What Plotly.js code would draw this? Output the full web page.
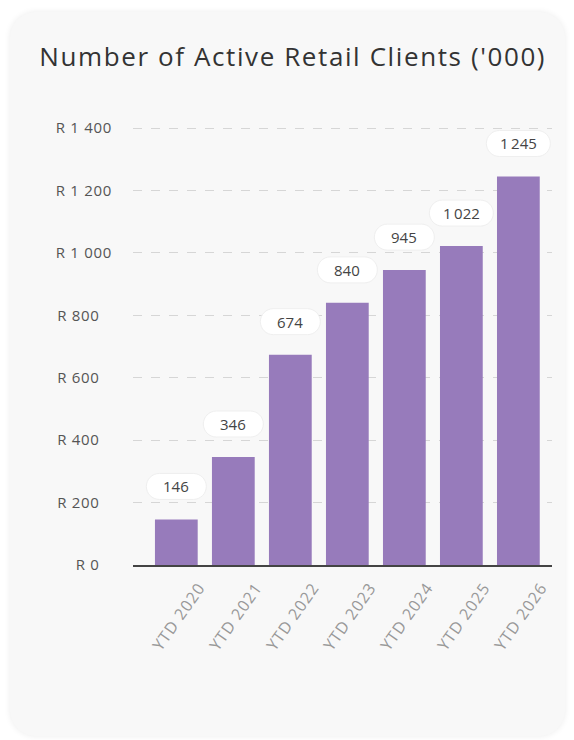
<!DOCTYPE html>
<html>
<head>
<meta charset="utf-8">
<script src="https://cdn.plot.ly/plotly-3.0.1.min.js"></script>
<style>
  html, body { margin: 0; padding: 0; background: #ffffff; }
  #card { position: absolute; left: 10px; top: 12px; width: 555px; height: 724px;
          background: #f8f8f8; border-radius: 26px;
          box-shadow: 0 0 6px rgba(0,0,0,0.08); }
  #chart { position: absolute; left: 0; top: 0; width: 574px; height: 740px; }
  #chart .gtitle { letter-spacing: 1.6px; }
  #chart .xtick text { letter-spacing: 1px; }
  #chart .ytick text { letter-spacing: 0.7px; }
</style>
</head>
<body>
<div id="card"></div>
<div id="chart"></div>
<script>
// ---- data ----
const categories = ["YTD 2020", "YTD 2021", "YTD 2022", "YTD 2023", "YTD 2024", "YTD 2025", "YTD 2026"];
const clients = [146, 346, 674, 840, 945, 1022, 1245];
const tickValues = [0, 200, 400, 600, 800, 1000, 1200, 1400];
const tickLabels = ["R 0", "R 200", "R 400", "R 600", "R 800", "R 1 000", "R 1 200", "R 1 400"];
const chartTitle = "Number of Active Retail Clients ('000)";

// ---- helpers ----
function fmt(v) {
  return String(v).replace(/\B(?=(\d{3})+(?!\d))/g, "\u2009");
}
function pad(label) {
  const digits = label.replace(/[^0-9]/g, "").length;
  return digits < 4 ? label + "\u2007\u2009" : label;
}
const fontFam = "'Open Sans', Lato, sans-serif";

const trace = {
  type: "bar",
  x: categories,
  y: clients,
  marker: { color: "#977bbb" },
  hoverinfo: "skip",
  cliponaxis: false
};

const annotations = categories.map((c, i) => ({
  x: c, y: clients[i], xref: "x", yref: "y",
  text: fmt(clients[i]),
  showarrow: false,
  yshift: 33,
  font: { family: fontFam, size: 15, color: "#444" }
}));

function pill(w, h, cy) {
  const r = h / 2, k = r * 0.5523;
  const xl = -w / 2 + r, xr = w / 2 - r;
  const yb = cy - r, yt = cy + r;
  return `M ${xl},${yb} L ${xr},${yb} ` +
    `C ${xr + k},${yb} ${xr + r},${cy - k} ${xr + r},${cy} ` +
    `C ${xr + r},${cy + k} ${xr + k},${yt} ${xr},${yt} ` +
    `L ${xl},${yt} ` +
    `C ${xl - k},${yt} ${xl - r},${cy + k} ${xl - r},${cy} ` +
    `C ${xl - r},${cy - k} ${xl - k},${yb} ${xl},${yb} Z`;
}

const shapes = categories.map((c, i) => ({
  type: "path",
  xref: "x", yref: "y",
  xsizemode: "pixel", ysizemode: "pixel",
  xanchor: c, yanchor: clients[i],
  path: pill(fmt(clients[i]).length > 3 ? 64 : 60, 26, 33),
  fillcolor: "#ffffff",
  line: { color: "#efefef", width: 1 },
  layer: "above"
}));

const layout = {
  width: 574, height: 740,
  margin: { l: 133, r: 22, t: 125, b: 175 },
  paper_bgcolor: "rgba(0,0,0,0)",
  plot_bgcolor: "rgba(0,0,0,0)",
  showlegend: false,
  bargap: 0.25,
  title: {
    text: chartTitle,
    xref: "container", yref: "container",
    x: 0.51, xanchor: "center",
    y: 0.923, yanchor: "middle",
    font: { family: fontFam, size: 26, color: "#333" }
  },
  xaxis: {
    type: "category",
    range: [-0.76, 6.59],
    showgrid: false,
    showline: true, linecolor: "#444", linewidth: 2,
    ticks: "",
    tickangle: -55,
    ticklabelshift: 23,
    ticklabelstandoff: 5,
    tickfont: { family: fontFam, size: 16, color: "#999" },
    fixedrange: true
  },
  yaxis: {
    range: [0, 1410],
    tickmode: "array",
    tickvals: tickValues,
    ticktext: tickLabels.map(pad),
    showgrid: true, gridcolor: "#d6d6d6", gridwidth: 1, griddash: "dash",
    zeroline: false,
    showline: false,
    ticks: "",
    ticklabelstandoff: 20,
    tickfont: { family: fontFam, size: 15, color: "#555" },
    fixedrange: true
  },
  annotations: annotations,
  shapes: shapes
};

Plotly.newPlot("chart", [trace], layout, { displayModeBar: false, staticPlot: true });
</script>
</body>
</html>
